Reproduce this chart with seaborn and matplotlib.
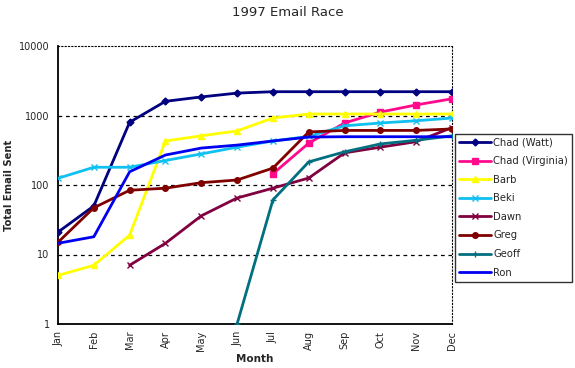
import numpy as np
import pandas as pd
import matplotlib
matplotlib.use("Agg")
import matplotlib.pyplot as plt
import seaborn as sns

months = ["Jan", "Feb", "Mar", "Apr", "May", "Jun", "Jul", "Aug", "Sep", "Oct", "Nov", "Dec"]
nan = np.nan

chad_watt = [21, 50, 800, 1600, 1850, 2100, 2200, 2200, 2200, 2200, 2200, 2200]
chad_virginia = [nan, nan, nan, nan, nan, nan, 145, 400, 780, 1120, 1420, 1740]
barb = [5, 7, 19, 430, 510, 600, 920, 1050, 1050, 1050, 1050, 1050]
beki = [125, 180, 180, 225, 280, 350, 430, 500, 710, 780, 840, 920]
dawn = [nan, nan, 7, 14.5, 36, 65, 90, 126, 290, 350, 420, 670]
greg = [15, 47, 84, 90, 108, 118, 175, 580, 610, 610, 610, 640]
geoff = [nan, nan, nan, nan, nan, 1, 61, 215, 300, 390, 440, 510]
ron = [14.5, 18, 155, 270, 340, 375, 430, 490, 495, 495, 495, 495]

series_names = ["Chad (Watt)", "Chad (Virginia)", "Barb", "Beki", "Dawn", "Greg", "Geoff", "Ron"]
series_values = [chad_watt, chad_virginia, barb, beki, dawn, greg, geoff, ron]

styles = {
    "Chad (Watt)": dict(color="#000080", marker="D", ms=3.5),
    "Chad (Virginia)": dict(color="#FF0A8C", marker="s", ms=4),
    "Barb": dict(color="#FFFF00", marker="^", ms=4.5),
    "Beki": dict(color="#10C0F0", marker="x", ms=4.5),
    "Dawn": dict(color="#800040", marker="x", ms=4),
    "Greg": dict(color="#800000", marker="o", ms=4),
    "Geoff": dict(color="#006F80", marker="+", ms=5),
    "Ron": dict(color="#0000F0", marker=None, ms=0),
}

rows = []
for name, vals in zip(series_names, series_values):
    for i, v in enumerate(vals):
        if not np.isnan(v):
            rows.append({"series": name, "month": i, "value": v})
df = pd.DataFrame(rows)

sns.set_style("white")
plt.rcParams["font.family"] = ["DejaVu Sans"]

fig = plt.figure(figsize=(5.75, 3.68), dpi=100)
ax = fig.add_axes([58 / 575, 1 - 324 / 368, (452 - 58) / 575, (324 - 46) / 368])

for name in series_names:
    st = styles[name]
    sub = df[df["series"] == name]
    sns.lineplot(data=sub, x="month", y="value", ax=ax, color=st["color"],
                 marker=st["marker"], markersize=st["ms"], linewidth=2.0,
                 markeredgecolor=st["color"], markeredgewidth=1.0,
                 label=name, zorder=3)

ax.set_yscale("log")
ax.set_ylim(1, 10000)
ax.set_xlim(0, 11)
ax.set_yticks([1, 10, 100, 1000, 10000])
ax.set_yticklabels(["1", "10", "100", "1000", "10000"], fontsize=7)
ax.yaxis.set_minor_locator(matplotlib.ticker.NullLocator())
ax.set_xticks(range(12))
ax.set_xticklabels(months, rotation=90, fontsize=7)
ax.tick_params(axis="x", direction="inout", length=6, width=1, color="black", pad=2)
ax.tick_params(axis="y", direction="out", length=4, width=1, color="black", pad=2)

for v in [10, 100, 1000]:
    ax.axhline(v, color="black", lw=0.9, ls=(0, (3, 3)), zorder=1)

for side in ["left", "bottom"]:
    ax.spines[side].set_color("black")
    ax.spines[side].set_linewidth(1.3)
for side in ["top", "right"]:
    ax.spines[side].set_color("black")
    ax.spines[side].set_linewidth(0.8)
    ax.spines[side].set_linestyle((0, (1, 2)))

ax.set_xlabel("Month", fontsize=7.5, fontweight="bold", labelpad=2)
ax.set_ylabel("Total Email Sent", fontsize=7.2, fontweight="bold", va="center")
ax.yaxis.set_label_coords((9 - 58) / 394, 0.5)
fig.text(288 / 575, 1 - 12 / 368, "1997 Email Race", ha="center", va="center", fontsize=9.5)

leg = ax.legend(loc="upper left", bbox_to_anchor=(455 / 575, 1 - 134 / 368),
                bbox_transform=fig.transFigure, fontsize=7.2, frameon=True,
                fancybox=False, edgecolor="black", borderpad=0.4, labelspacing=0.85,
                handlelength=3.2, handletextpad=0.2, borderaxespad=0)
leg.get_frame().set_linewidth(1.0)

fig.savefig("out.png", dpi=100)
